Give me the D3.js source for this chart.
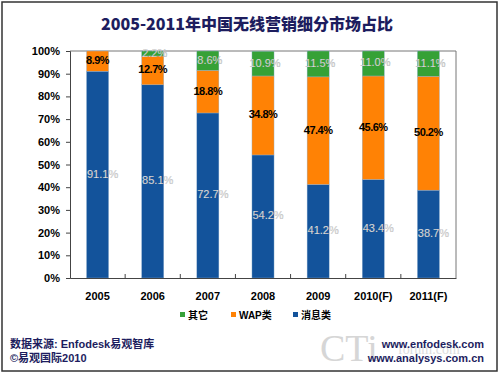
<!DOCTYPE html>
<html>
<head>
<meta charset="utf-8">
<script src="https://cdn.jsdelivr.net/npm/d3@7"></script>
<style>
  body { margin: 0; background: #fff; }
  text { font-family: "Liberation Sans", Arial, "Noto Sans CJK SC", sans-serif; }
</style>
</head>
<body>
<script>
// chart data
var years = ["2005", "2006", "2007", "2008", "2009", "2010(F)", "2011(F)"];
var msgShare = [91.1, 85.1, 72.7, 54.2, 41.2, 43.4, 38.7];   // 消息类
var wapShare = [8.9, 12.7, 18.8, 34.8, 47.4, 45.6, 50.2];    // WAP类
var otherShare = [0, 2.2, 8.6, 10.9, 11.5, 11.0, 11.1];      // 其它
var yTicks = [0, 10, 20, 30, 40, 50, 60, 70, 80, 90, 100];
var seriesNames = ["消息类", "WAP类", "其它"];
var legendOrder = ["其它", "WAP类", "消息类"];

window.onload = function(){
    drawChart();
};

function drawChart(){
    var svg = d3.select("body").append("svg").attr("width", 500).attr("height", 376);

    var margin = {top: 51, right: 44, bottom: 98, left: 70};
    var w = 500 - margin.left - margin.right;
    var h = 376 - margin.top - margin.bottom;

    var colors = {"消息类": "#13539b", "WAP类": "#ff8205", "其它": "#36a136"};
    var labelColors = {"消息类": "#ececec", "WAP类": "#000", "其它": "#e4e4e4"};
    var labelShift = {"消息类": 5, "WAP类": 0, "其它": 2};   // excel puts labels a bit off centre

    // outer frame
    svg.append("rect")
        .attr("x", 2).attr("y", 2).attr("width", 495).attr("height", 369)
        .attr("fill", "none").attr("stroke", "#333").attr("stroke-width", 1.5);

    // title
    svg.append("text")
        .attr("x", 247).attr("y", 30)
        .attr("text-anchor", "middle")
        .style("font-family", "'Noto Sans CJK SC', sans-serif")
        .style("font-size", "16px").style("font-weight", "900")
        .attr("fill", "#1d1d5e")
        .text("2005-2011年中国无线营销细分市场占比");

    var g = svg.append("g").attr("transform", "translate(" + margin.left + "," + margin.top + ")");

    var xScale = d3.scaleBand().domain(years).range([0, w]).paddingInner(0.6).paddingOuter(0.3);
    var xTickScale = d3.scaleBand().domain(years).range([0, w]);
    var yScale = d3.scaleLinear().domain([0, 100]).range([h, 0]);

    // stack table built from the arrays
    var table = years.map(function(y, i){
        return {year: y, "消息类": msgShare[i], "WAP类": wapShare[i], "其它": otherShare[i]};
    });
    var stacked = d3.stack().keys(seriesNames)(table);

    // plot frame (top and right)
    g.append("path")
        .attr("d", "M0,0H" + w + "V" + h)
        .attr("fill", "none").attr("stroke", "#777").attr("stroke-width", 1);

    var layers = g.selectAll(".layer")
        .data(stacked)
        .enter()
        .append("g")
        .attr("class", "layer")
        .attr("fill", function(d){ return colors[d.key]; });

    layers.selectAll("rect")
        .data(function(d){ return d; })
        .enter()
        .append("rect")
        .attr("x", function(d){ return xScale(d.data.year); })
        .attr("width", xScale.bandwidth())
        .attr("y", function(d){ return yScale(Math.min(d[1], 100)); })
        .attr("height", function(d){ return yScale(d[0]) - yScale(Math.min(d[1], 100)); })
        .attr("stroke", "#8fb0d0").attr("stroke-width", 0.4);

    // segment labels
    stacked.forEach(function(layer){
        var isWap = layer.key === "WAP类";
        g.selectAll(".lbl-" + layer.index)
            .data(layer.filter(function(d){ return d[1] - d[0] > 0; }))
            .enter()
            .append("text")
            .attr("x", function(d){ return xScale(d.data.year) + xScale.bandwidth() / 2 + labelShift[layer.key]; })
            .attr("y", function(d){ return yScale((d[0] + Math.min(d[1], 100)) / 2) + 3; })
            .attr("text-anchor", "middle")
            .attr("fill", labelColors[layer.key])
            .attr("stroke", isWap ? "none" : "#888")
            .attr("stroke-width", 0.2)
            .style("font-size", "11px")
            .style("font-weight", isWap ? "bold" : "normal")
            .style("letter-spacing", isWap ? "-0.5px" : "0px")
            .text(function(d){ return (d[1] - d[0]).toFixed(1) + "%"; });
    });

    // y axis
    var yAxis = g.append("g")
        .attr("class", "axis-y")
        .call(d3.axisLeft(yScale).tickValues(yTicks).tickSize(4).tickFormat(function(d){ return d + "%"; }));
    yAxis.select(".domain").attr("stroke", "#444");
    yAxis.selectAll(".tick line").attr("stroke", "#444");
    yAxis.selectAll("text")
        .attr("x", -10)
        .style("font-size", "11px").style("font-weight", "bold")
        .style("font-family", "'Liberation Sans', Arial, sans-serif")
        .attr("fill", "#000");

    // x axis, ticks between categories pointing up
    var xAxis = g.append("g")
        .attr("class", "axis-x")
        .attr("transform", "translate(0," + h + ")")
        .call(d3.axisBottom(xTickScale).tickSize(0).tickPadding(14));
    xAxis.select(".domain").attr("stroke", "#444");
    xAxis.selectAll("text")
        .style("font-size", "11px").style("font-weight", "bold")
        .attr("fill", "#000");
    g.append("g")
        .selectAll("line")
        .data(years.slice(1))
        .enter()
        .append("line")
        .attr("x1", function(d){ return xTickScale(d); })
        .attr("x2", function(d){ return xTickScale(d); })
        .attr("y1", h).attr("y2", h - 4)
        .attr("stroke", "#444");

    // legend
    var legendX = {"其它": 180, "WAP类": 231, "消息类": 293};
    var legend = svg.append("g").selectAll("g")
        .data(legendOrder)
        .enter()
        .append("g")
        .attr("transform", function(d){ return "translate(" + legendX[d] + ",315)"; });
    legend.append("rect")
        .attr("x", 0).attr("y", -3).attr("width", 5).attr("height", 5)
        .attr("fill", function(d){ return colors[d]; });
    legend.append("text")
        .attr("x", 8).attr("y", 3.5)
        .style("font-size", "10px").style("font-weight", "bold")
        .attr("fill", "#000")
        .text(function(d){ return d; });

    // watermark
    svg.append("text")
        .attr("x", 320).attr("y", 361)
        .style("font-family", "'Liberation Serif', serif").style("font-size", "38px")
        .attr("fill", "#d6d6d6")
        .text("CTi");
    svg.append("text")
        .attr("x", 398).attr("y", 354)
        .style("font-family", "'Liberation Serif', serif").style("font-size", "14px")
        .attr("fill", "#dcdcdc")
        .text("forum.com");

    // footer
    var footer = [
        {text: "数据来源:  Enfodesk易观智库", x: 10, y: 348, anchor: "start"},
        {text: "©易观国际2010", x: 10, y: 362, anchor: "start"},
        {text: "www.enfodesk.com", x: 484, y: 348, anchor: "end"},
        {text: "www.analysys.com.cn", x: 484, y: 362, anchor: "end"}
    ];
    svg.selectAll(".footer")
        .data(footer)
        .enter()
        .append("text")
        .attr("class", "footer")
        .attr("x", function(d){ return d.x; })
        .attr("y", function(d){ return d.y; })
        .attr("text-anchor", function(d){ return d.anchor; })
        .style("font-size", "11px").style("font-weight", "bold")
        .attr("fill", "#1d1d5e")
        .text(function(d){ return d.text; });
}
</script>
</body>
</html>
